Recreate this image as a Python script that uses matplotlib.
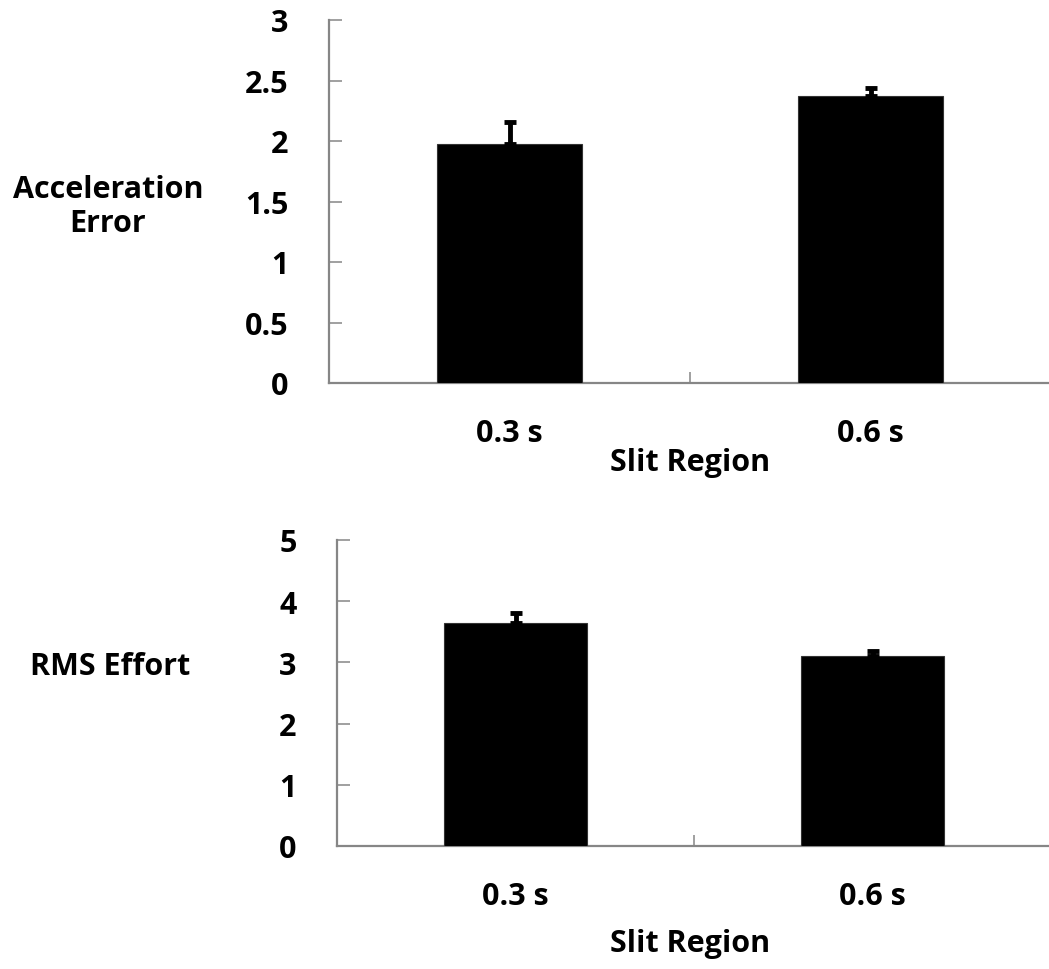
import matplotlib
matplotlib.use("Agg")
import matplotlib.pyplot as plt

# Data
categories = ["0.3 s", "0.6 s"]
accel_means = [1.975, 2.37]
accel_errs = [0.18, 0.07]
rms_means = [3.64, 3.10]
rms_errs = [0.17, 0.08]

plt.rcParams['font.family'] = ['Open Sans', 'DejaVu Sans']
plt.rcParams['font.weight'] = 'bold'

AXIS_GRAY = '#868686'
FS = 22

fig = plt.figure(figsize=(10.49, 9.70), dpi=100)
W, H = 1049.0, 970.0


def px_axes(left, top, right, bottom):
    return fig.add_axes([left / W, 1 - bottom / H, (right - left) / W, (bottom - top) / H])


def draw_panel(ax, means, errs, ymax, ystep, ylabel, ylabel_xy, xlabel_y):
    x = range(len(categories))
    lower = [0] * len(errs)
    ax.bar(x, means, width=0.4, color='black', edgecolor='#333333', linewidth=0.8, zorder=3)
    ax.errorbar(x, means, yerr=[lower, errs], fmt='none', ecolor='black',
                elinewidth=3.5, capsize=4.5, capthick=3.5, zorder=4)
    ax.set_xlim(-0.5, len(categories) - 0.5)
    ax.set_ylim(0, ymax)

    ticks = [i * ystep for i in range(int(round(ymax / ystep)) + 1)]
    ax.set_yticks(ticks)
    ax.set_yticklabels([('%g' % t) for t in ticks], fontsize=FS, fontweight='bold')
    ax.tick_params(axis='y', direction='in', length=9, width=1.1, color=AXIS_GRAY, pad=29)

    ax.set_xticks(list(x))
    ax.set_xticklabels(categories, fontsize=FS, fontweight='bold')
    ax.tick_params(axis='x', which='major', length=0, pad=25)
    ax.set_xticks([i - 0.5 for i in range(len(categories) + 1)], minor=True)
    ax.tick_params(axis='x', which='minor', direction='in', length=8, width=1.1, color=AXIS_GRAY)

    for side in ['top', 'right']:
        ax.spines[side].set_visible(False)
    for side in ['left', 'bottom']:
        ax.spines[side].set_color(AXIS_GRAY)
        ax.spines[side].set_linewidth(1.6)

    fig.text(ylabel_xy[0] / W, 1 - ylabel_xy[1] / H, ylabel, ha='center', va='center',
             fontsize=FS, fontweight='bold', linespacing=1.15)
    fig.text(690 / W, 1 - xlabel_y / H, 'Slit Region', ha='center', va='center',
             fontsize=FS, fontweight='bold')


ax1 = px_axes(329, 21, 1051, 384)
draw_panel(ax1, accel_means, accel_errs, 3, 0.5, 'Acceleration\nError', (108, 207), 463)

ax2 = px_axes(337, 541, 1051, 847)
draw_panel(ax2, rms_means, rms_errs, 5, 1, 'RMS Effort', (110, 667), 944)

fig.savefig('out.png', dpi=100)
